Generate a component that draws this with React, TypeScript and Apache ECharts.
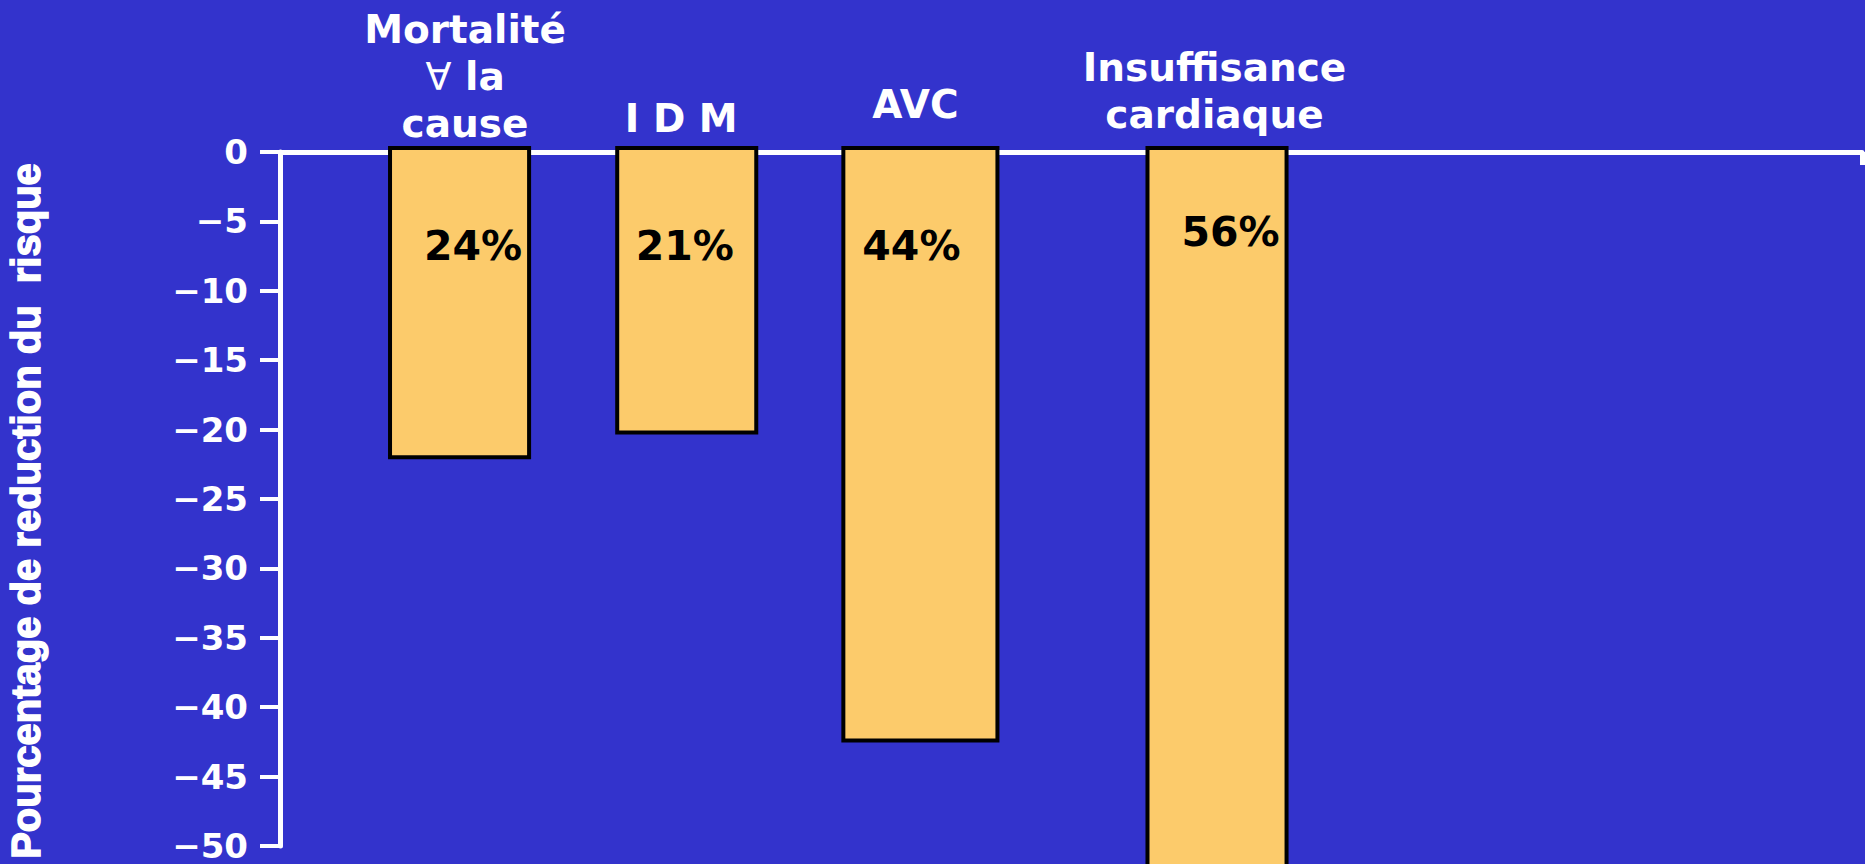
import React, { useEffect, useRef } from "react";
import * as echarts from "echarts";

// ---- Data ----
const categories = ["Mortalité\n∀ la\ncause", "I D M", "AVC", "Insuffisance\ncardiaque"];
const reductionValues = [-22, -20.2, -42.4, -56];
const percentLabels = ["24%", "21%", "44%", "56%"];
// position of each bar on the horizontal value axis (0–100) and its width in the same units
const barPositions = [11.35, 25.71, 40.48, 59.23];
const barWidths = [8.79, 8.79, 9.74, 8.79];
const yMin = -50;
const yMax = 0;
const yInterval = 5;
const yAxisTitle = "Pourcentage de reduction du  risque";

// ---- Layout / style constants ----
const BG = "#3333CC";
const BAR_FILL = "#FCCB6B";
const CAT_LABEL_BOTTOM = [-5, -10, -24, -14]; // bottom of category label relative to the zero line
const CAT_LABEL_DX = [5.5, -5.5, -5, -2.5];
const PCT_LABEL_DY = [94, 94, 94, 80];
const PCT_LABEL_DX = [13.5, -2, -9, 13.5];
const LABEL_FONT = "DejaVu Sans";

export default function App() {
  const ref = useRef<HTMLDivElement>(null);

  useEffect(() => {
    if (!ref.current) return;
    const chart = echarts.init(ref.current, null, { renderer: "svg" });

    const data = categories.map((c, i) => [barPositions[i], reductionValues[i], barWidths[i], i]);

    const option: any = {
      animation: false,
      backgroundColor: BG,
      grid: { left: 280, right: 3, top: 152, bottom: 18, containLabel: false, outerBoundsMode: "none" },
      xAxis: {
        type: "value",
        min: 0,
        max: 100,
        position: "bottom",
        axisLine: { show: true, onZero: true, lineStyle: { color: "#FFFFFF", width: 5 } },
        axisTick: { show: true, customValues: [100], length: 13, lineStyle: { color: "#FFFFFF", width: 5 } },
        axisLabel: { show: false },
        splitLine: { show: false },
      },
      yAxis: {
        type: "value",
        min: yMin,
        max: yMax,
        interval: yInterval,
        name: yAxisTitle,
        nameLocation: "middle",
        nameRotate: 90,
        nameGap: 234,
        nameTextStyle: {
          color: "#FFFFFF",
          fontFamily: "Liberation Sans",
          fontWeight: "bold",
          fontSize: 40,
          textBorderColor: "#FFFFFF",
          textBorderWidth: 1.5,
          padding: [0, 24, 0, 0],
        },
        axisLine: { show: true, lineStyle: { color: "#FFFFFF", width: 5 } },
        axisTick: { show: true, length: 20, lineStyle: { color: "#FFFFFF", width: 4 } },
        axisLabel: {
          color: "#FFFFFF",
          fontFamily: LABEL_FONT,
          fontWeight: "bold",
          fontSize: 34,
          margin: 32,
          formatter: (v: number) => String(v).replace("-", "\u2212"),
        },
        splitLine: { show: false },
      },
      series: [
        {
          type: "custom",
          clip: false,
          data,
          encode: { x: 0, y: 1 },
          renderItem: (params: any, api: any) => {
            const x = api.value(0);
            const v = api.value(1);
            const w = api.value(2);
            const i = api.value(3);
            const top = api.coord([x, 0]);
            const bot = api.coord([x, v]);
            const wpx = api.size([w, 0])[0];
            const richText = categories[i].replace("∀", "{t|∀}");
            return {
              type: "group",
              children: [
                {
                  type: "rect",
                  shape: { x: top[0] - wpx / 2, y: top[1] - 4, width: wpx, height: bot[1] - top[1] + 4 },
                  style: { fill: BAR_FILL, stroke: "#000000", lineWidth: 4 },
                },
                {
                  type: "text",
                  x: top[0] + PCT_LABEL_DX[i],
                  y: top[1] + PCT_LABEL_DY[i],
                  style: {
                    text: percentLabels[i],
                    fill: "#000000",
                    fontFamily: LABEL_FONT,
                    fontWeight: "bold",
                    fontSize: 41,
                    align: "center",
                    verticalAlign: "middle",
                  },
                },
                {
                  type: "text",
                  x: top[0] + CAT_LABEL_DX[i],
                  y: top[1] + CAT_LABEL_BOTTOM[i],
                  style: {
                    text: richText,
                    fill: "#FFFFFF",
                    fontFamily: LABEL_FONT,
                    fontWeight: "bold",
                    fontSize: 39,
                    lineHeight: 47,
                    align: "center",
                    verticalAlign: "bottom",
                    rich: {
                      t: {
                        fontFamily: LABEL_FONT,
                        fontWeight: "normal",
                        fontSize: 38,
                        lineHeight: 47,
                        fill: "#FFFFFF",
                      },
                    },
                  },
                },
              ],
            };
          },
        },
      ],
    };

    chart.setOption(option);
    return () => {
      chart.dispose();
    };
  }, []);

  return (
    <div
      ref={ref}
      style={{ position: "fixed", left: 0, top: 0, width: 1865, height: 864, background: BG }}
    />
  );
}
